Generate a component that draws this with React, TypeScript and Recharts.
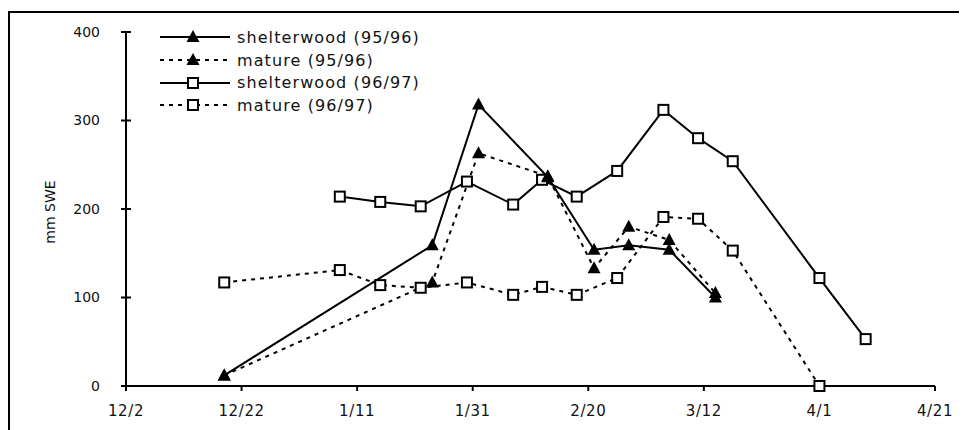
import { Line, LineChart, XAxis, YAxis } from "recharts";

// x = days since 12/2
const xTicks = [0, 20, 40, 60, 80, 100, 120, 140];
const xTickLabels = ["12/2", "12/22", "1/11", "1/31", "2/20", "3/12", "4/1", "4/21"];
const yTicks = [0, 100, 200, 300, 400];

const days9596 = [17, 53, 61, 73, 81, 87, 94, 102];
const shelter9596 = [12, 159, 318, 236, 154, 159, 154, 100];
const mature9596 = [12, 117, 263, 237, 133, 180, 165, 105];

const daysShelter9697 = [37, 44, 51, 59, 67, 72, 78, 85, 93, 99, 105, 120, 128];
const shelter9697 = [214, 208, 203, 231, 205, 233, 214, 243, 312, 280, 254, 122, 53];
const daysMature9697 = [17, 37, 44, 51, 59, 67, 72, 78, 85, 93, 99, 105, 120];
const mature9697 = [117, 131, 114, 111, 117, 103, 112, 103, 122, 191, 189, 153, 0];

const seriesNames = ["shelterwood (95/96)", "mature (95/96)", "shelterwood (96/97)", "mature (96/97)"];

const FONT = "'DejaVu Sans', sans-serif";
const DASH = "4 5";

const toPoints = (d: number[], v: number[]) => d.map((x, i) => ({ d: x, v: v[i] }));

function Triangle({ cx, cy }: { cx: number; cy: number }) {
  return <path d={`M${cx},${cy - 7} L${cx + 6.5},${cy + 5} L${cx - 6.5},${cy + 5} Z`} fill="#000" />;
}

function Square({ cx, cy }: { cx: number; cy: number }) {
  return <rect x={cx - 5} y={cy - 5} width={10} height={10} fill="#fff" stroke="#000" strokeWidth={2} />;
}

const triDot = (p: any) => <Triangle key={p.key ?? p.index} cx={p.cx} cy={p.cy} />;
const sqDot = (p: any) => <Square key={p.key ?? p.index} cx={p.cx} cy={p.cy} />;

function YTick(props: any) {
  const { x, y, payload } = props;
  const axisX = x + 26;
  return (
    <g>
      <line x1={axisX - 5} x2={axisX + 5} y1={y} y2={y} stroke="#000" strokeWidth={2} />
      <text x={x} y={y} dy="0.35em" textAnchor="end" fontSize={14} fontFamily={FONT} fill="#111">
        {payload.value}
      </text>
    </g>
  );
}

function LegendBox() {
  const rows = seriesNames.map((name, i) => {
    const dashed = i % 2 === 1;
    const tri = i < 2;
    return (
      <div key={name} style={{ display: "flex", alignItems: "center", height: 22.7 }}>
        <svg width={72} height={22}>
          <line x1={0} x2={70} y1={11} y2={11} stroke="#000" strokeWidth={2} strokeDasharray={dashed ? DASH : undefined} />
          {tri ? <Triangle cx={33} cy={11} /> : <Square cx={33} cy={11} />}
        </svg>
        <span
          style={{
            marginLeft: 5,
            fontSize: 16,
            letterSpacing: 1.1,
            fontFamily: FONT,
            color: "#111",
            whiteSpace: "nowrap",
          }}
        >
          {name}
        </span>
      </div>
    );
  });
  return <div style={{ position: "absolute", left: 152, top: 18 }}>{rows}</div>;
}

export default function App() {
  return (
    <div style={{ position: "relative", width: 959, height: 422, overflow: "hidden", background: "#fff" }}>
      <div
        style={{
          position: "absolute",
          left: 0,
          top: 3,
          width: 2000,
          height: 2000,
          borderLeft: "2px solid #000",
          borderTop: "2px solid #000",
        }}
      />
      <LineChart width={959} height={422} margin={{ top: 24, right: 32, bottom: 14, left: 58 }}>
        <XAxis
          type="number"
          dataKey="d"
          domain={[0, 140]}
          ticks={xTicks}
          tickFormatter={(v: number) => xTickLabels[xTicks.indexOf(v)]}
          height={30}
          stroke="#000"
          strokeWidth={2}
          tickSize={5}
          tickMargin={14}
          tick={{ fontSize: 15, fontFamily: FONT, fill: "#111", letterSpacing: 0.6 }}
          allowDuplicatedCategory={false}
        />
        <YAxis
          type="number"
          domain={[0, 400]}
          ticks={yTicks}
          width={60}
          stroke="#000"
          strokeWidth={2}
          tickLine={false}
          tickSize={5}
          tickMargin={21}
          tick={<YTick />}
          label={(p: any) => {
            const vb = p.viewBox;
            const x = vb.x - 11;
            const y = vb.y + vb.height / 2 + 3;
            return (
              <text x={x} y={y} transform={`rotate(-90, ${x}, ${y})`} textAnchor="middle" fontSize={14} fontFamily={FONT} fill="#111">
                mm SWE
              </text>
            );
          }}
        />
        <Line
          name={seriesNames[3]}
          data={toPoints(daysMature9697, mature9697)}
          dataKey="v"
          stroke="#000"
          strokeWidth={2}
          strokeDasharray={DASH}
          dot={sqDot}
          isAnimationActive={false}
        />
        <Line
          name={seriesNames[2]}
          data={toPoints(daysShelter9697, shelter9697)}
          dataKey="v"
          stroke="#000"
          strokeWidth={2}
          dot={sqDot}
          isAnimationActive={false}
        />
        <Line
          name={seriesNames[1]}
          data={toPoints(days9596, mature9596)}
          dataKey="v"
          stroke="#000"
          strokeWidth={2}
          strokeDasharray={DASH}
          dot={triDot}
          isAnimationActive={false}
        />
        <Line
          name={seriesNames[0]}
          data={toPoints(days9596, shelter9596)}
          dataKey="v"
          stroke="#000"
          strokeWidth={2}
          dot={triDot}
          isAnimationActive={false}
        />
      </LineChart>
      <LegendBox />
    </div>
  );
}
